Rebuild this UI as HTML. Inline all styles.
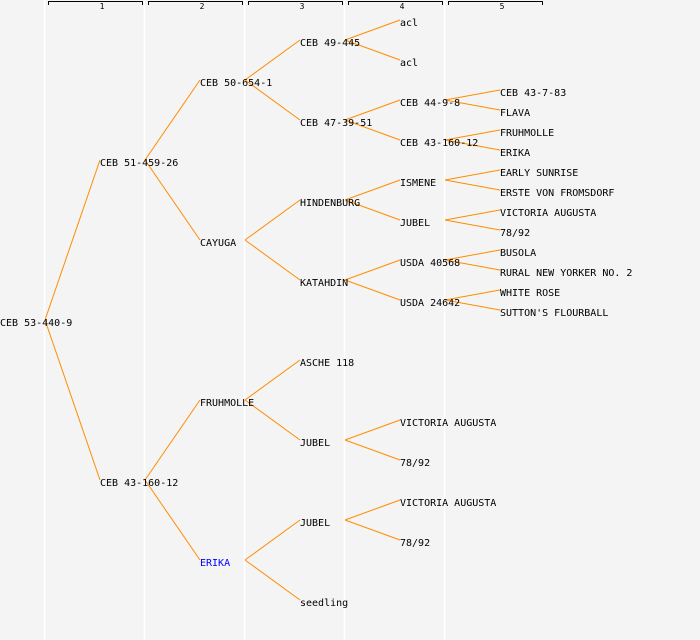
<!DOCTYPE html>
<html><head><style>
html,body{margin:0;padding:0;background:#f4f4f4;}
svg{display:block;}
text{font-family:"DejaVu Sans Mono","Liberation Mono",monospace;font-size:10px;fill:#000;}
.h{font-size:8px;}
</style></head><body>
<svg width="700" height="640" xmlns="http://www.w3.org/2000/svg">
<rect width="700" height="640" fill="#f4f4f4"/>
<g stroke="#fff" stroke-width="1.5">
<line x1="44.5" y1="0" x2="44.5" y2="640"/>
<line x1="144.5" y1="0" x2="144.5" y2="640"/>
<line x1="244.5" y1="0" x2="244.5" y2="640"/>
<line x1="344.5" y1="0" x2="344.5" y2="640"/>
<line x1="444.5" y1="0" x2="444.5" y2="640"/>
</g>
<g stroke="#000" stroke-width="1" fill="none">
<path d="M48.5,5V1.5H142.5V5"/>
<path d="M148.5,5V1.5H242.5V5"/>
<path d="M248.5,5V1.5H342.5V5"/>
<path d="M348.5,5V1.5H442.5V5"/>
<path d="M448.5,5V1.5H542.5V5"/>
</g>
<g class="h" text-anchor="middle">
<text class="h" x="102" y="9">1</text>
<text class="h" x="202" y="9">2</text>
<text class="h" x="302" y="9">3</text>
<text class="h" x="402" y="9">4</text>
<text class="h" x="502" y="9">5</text>
</g>
<g stroke="#ff8c00" stroke-width="1" fill="none">
<path d="M45,320L100,160M45,320L100,480"/>
<path d="M145,160L200,80M145,160L200,240M145,480L200,400M145,480L200,560"/>
<path d="M245,80L300,40M245,80L300,120M245,240L300,200M245,240L300,280M245,400L300,360M245,400L300,440M245,560L300,520M245,560L300,600"/>
<path d="M345,40L400,20M345,40L400,60M345,120L400,100M345,120L400,140M345,200L400,180M345,200L400,220M345,280L400,260M345,280L400,300M345,440L400,420M345,440L400,460M345,520L400,500M345,520L400,540"/>
<path d="M445,100L500,90M445,100L500,110M445,140L500,130M445,140L500,150M445,180L500,170M445,180L500,190M445,220L500,210M445,220L500,230M445,260L500,250M445,260L500,270M445,300L500,290M445,300L500,310"/>
</g>
<g>
<text x="0" y="326">CEB 53-440-9</text>
<text x="100" y="166">CEB 51-459-26</text>
<text x="100" y="486">CEB 43-160-12</text>
<text x="200" y="86">CEB 50-654-1</text>
<text x="200" y="246">CAYUGA</text>
<text x="200" y="406">FRUHMOLLE</text>
<text x="200" y="566" style="fill:#0000ff">ERIKA</text>
<text x="300" y="46">CEB 49-445</text>
<text x="300" y="126">CEB 47-39-51</text>
<text x="300" y="206">HINDENBURG</text>
<text x="300" y="286">KATAHDIN</text>
<text x="300" y="366">ASCHE 118</text>
<text x="300" y="446">JUBEL</text>
<text x="300" y="526">JUBEL</text>
<text x="300" y="606">seedling</text>
<text x="400" y="26">acl</text>
<text x="400" y="66">acl</text>
<text x="400" y="106">CEB 44-9-8</text>
<text x="400" y="146">CEB 43-160-12</text>
<text x="400" y="186">ISMENE</text>
<text x="400" y="226">JUBEL</text>
<text x="400" y="266">USDA 40568</text>
<text x="400" y="306">USDA 24642</text>
<text x="400" y="426">VICTORIA AUGUSTA</text>
<text x="400" y="466">78/92</text>
<text x="400" y="506">VICTORIA AUGUSTA</text>
<text x="400" y="546">78/92</text>
<text x="500" y="96">CEB 43-7-83</text>
<text x="500" y="116">FLAVA</text>
<text x="500" y="136">FRUHMOLLE</text>
<text x="500" y="156">ERIKA</text>
<text x="500" y="176">EARLY SUNRISE</text>
<text x="500" y="196">ERSTE VON FROMSDORF</text>
<text x="500" y="216">VICTORIA AUGUSTA</text>
<text x="500" y="236">78/92</text>
<text x="500" y="256">BUSOLA</text>
<text x="500" y="276">RURAL NEW YORKER NO. 2</text>
<text x="500" y="296">WHITE ROSE</text>
<text x="500" y="316">SUTTON'S FLOURBALL</text>
</g>
</svg>
</body></html>
